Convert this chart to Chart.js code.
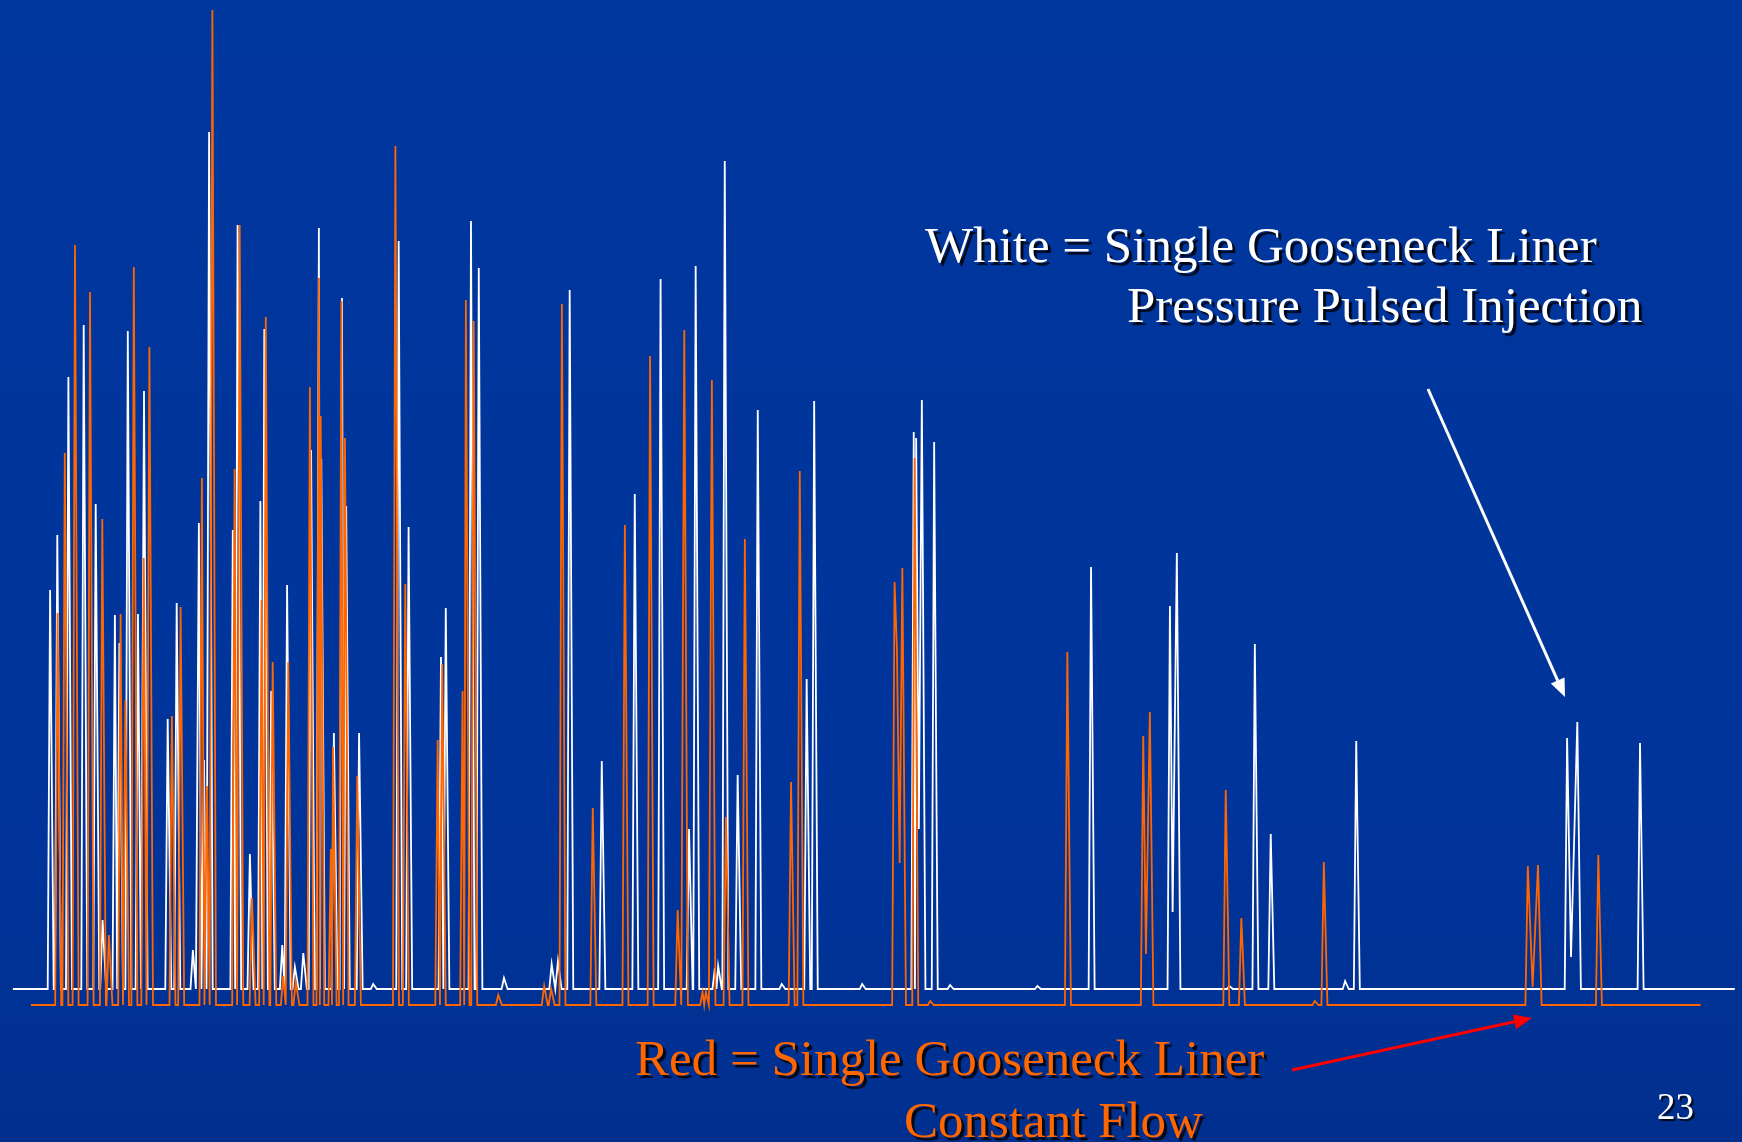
<!DOCTYPE html>
<html>
<head>
<meta charset="utf-8">
<title>Gooseneck liner chromatograms</title>
<script src="https://cdn.jsdelivr.net/npm/chart.js@4.4.1/dist/chart.umd.min.js"></script>
<style>
  html, body { margin: 0; padding: 0; background: #00349a; }
  #chart { display: block; }
</style>
</head>
<body>
<canvas id="chart" width="1742" height="1142"></canvas>
<script>
// retention time (min) and signal of each peak apex
const whiteTimes = [1.67, 1.91, 2.28, 2.79, 3.19, 3.42, 3.83, 3.98, 4.26, 4.60, 4.80, 5.59, 5.89, 6.43, 6.63, 6.80, 6.97,
  7.76, 7.92, 8.33, 8.68, 8.81, 9.04, 9.41, 9.57, 9.83, 10.11, 10.37, 10.63, 10.71, 11.13, 11.40, 11.54, 11.97, 12.44,
  13.29, 13.62, 14.70, 14.86, 15.70, 15.96, 16.80, 18.39, 18.60, 18.99, 20.06, 21.16, 22.02, 22.97, 23.19, 23.83, 23.94,
  24.16, 24.59, 25.26, 26.06, 26.89, 27.14, 28.74, 30.46, 30.54, 30.73, 31.14, 31.67, 34.58, 36.37, 39.00, 39.23, 40.98,
  41.83, 42.36, 44.84, 45.21, 52.24, 52.58, 54.67];
const whiteSignal = [39.9, 45.4, 61.2, 66.4, 48.5, 6.9, 37.4, 34.6, 65.8, 37.5, 59.8, 27.0, 38.6, 3.9, 46.6, 22.9, 85.7,
  45.9, 76.4, 13.5, 48.8, 66.0, 29.8, 4.4, 40.4, 2.2, 3.6, 53.9, 76.1, 53.0, 25.6, 69.1, 48.3, 25.6, 0.5,
  74.8, 46.2, 33.2, 38.1, 76.8, 72.1, 1.1, 2.5, 2.8, 69.9, 22.8, 49.5, 71.0, 16.0, 72.3, 2.1, 2.3,
  82.8, 21.4, 57.9, 0.5, 31.0, 58.8, 0.5, 55.7, 55.1, 58.9, 54.7, 0.4, 0.3, 42.2, 38.3, 43.6, 0.3,
  34.5, 15.5, 0.8, 24.8, 25.1, 26.7, 24.6];
// valleys between unresolved peaks
const whiteValleyTimes = [30.63, 39.09, 52.37];
const whiteValleySignal = [16.0, 7.7, 3.2];

const redTimes = [1.92, 2.16, 2.50, 3.00, 3.41, 3.63, 4.02, 4.18, 4.46, 4.79, 4.98, 5.73, 6.02, 6.73, 6.90, 7.08,
  7.82, 7.99, 8.40, 8.72, 8.86, 9.09, 9.44, 9.61, 9.86, 10.33, 10.63, 10.69, 11.03, 11.10, 11.38, 11.50, 11.91,
  13.18, 13.51, 14.59, 14.74, 15.42, 15.53, 15.79, 16.61, 18.14, 18.37, 18.73, 19.76, 20.83, 21.67, 22.59, 22.81,
  23.42, 23.53, 23.73, 24.20, 24.83, 26.37, 26.66, 29.82, 30.08, 30.49, 31.01, 35.58, 38.11, 38.33, 40.86, 41.38,
  43.83, 44.13, 50.93, 51.27, 53.28];
const redSignal = [37.6, 53.6, 74.4, 69.7, 47.0, 5.4, 37.5, 28.9, 72.2, 43.1, 64.2, 27.3, 38.2, 51.1, 20.3, 97.9,
  52.0, 76.4, 9.1, 38.9, 67.2, 32.7, 1.3, 32.7, 0.7, 60.2, 71.1, 57.3, 14.0, 24.2, 68.8, 55.1, 21.3,
  84.3, 40.5, 24.9, 32.5, 29.8, 68.9, 66.8, -0.6, 0.3, 0.0, 68.5, 18.1, 46.4, 63.3, 7.9, 65.9,
  -0.3, -0.3, 60.9, 17.2, 45.0, 20.7, 51.8, 40.7, 42.1, 53.1, -1.2, 33.7, 25.3, 27.7, 19.9, 7.1,
  -1.2, 12.7, 12.3, 12.4, 13.4];
const redValleyTimes = [29.90, 29.99, 38.20, 51.09];
const redValleySignal = [34.0, 12.6, 3.5, 0.2];

// run extents (min) and baselines
const whiteRun = [0.43, 57.83];
const redRun = [1.03, 56.69];
const whiteBase = 0;
const redBase = -1.6;

const LEAD = 0.08;  // rise of a peak, min
const TAIL = 0.12;  // tail of a peak, min

function buildTrace(times, signal, vTimes, vSignal, run, base) {
  const pts = [];
  times.forEach((t, i) => pts.push({ x: t, y: signal[i], apex: true }));
  vTimes.forEach((t, i) => pts.push({ x: t, y: vSignal[i], apex: false }));
  pts.sort((a, b) => a.x - b.x);

  const out = [{ x: run[0], y: base }];
  pts.forEach((p, i) => {
    const prev = pts[i - 1];
    if (p.apex && (!prev || prev.apex)) {
      if (!prev) {
        out.push({ x: p.x - LEAD, y: base });
      } else if (p.x - LEAD > prev.x + TAIL) {
        out.push({ x: prev.x + TAIL, y: base });
        out.push({ x: p.x - LEAD, y: base });
      } else {
        out.push({ x: (prev.x + p.x) / 2, y: base });
      }
    }
    out.push({ x: p.x, y: p.y });
  });
  const last = pts[pts.length - 1];
  out.push({ x: last.x + TAIL, y: base });
  out.push({ x: run[1], y: base });
  return out;
}

// background + annotations
const slide = {
  id: 'slide',
  beforeDraw(c) {
    const ctx = c.ctx;
    const g = ctx.createLinearGradient(0, 0, 0, c.height);
    g.addColorStop(0, '#00379e');
    g.addColorStop(0.75, '#00349a');
    g.addColorStop(1, '#002f8e');
    ctx.save();
    ctx.fillStyle = g;
    ctx.fillRect(0, 0, c.width, c.height);
    ctx.restore();
  },
  afterDraw(c) {
    const ctx = c.ctx;
    ctx.save();
    arrow(ctx, 1428, 389, 1565, 697, '#ffffff');
    arrow(ctx, 1292, 1070, 1532, 1018, '#ff0000');

    ctx.shadowColor = 'rgba(0,0,0,0.85)';
    ctx.shadowOffsetX = 3;
    ctx.shadowOffsetY = 3;
    ctx.shadowBlur = 1;
    ctx.textBaseline = 'alphabetic';
    ctx.font = '51px "Liberation Serif", "Times New Roman", serif';
    ctx.fillStyle = '#ffffff';
    ctx.fillText('White = Single Gooseneck Liner', 925, 262);
    ctx.fillText('Pressure Pulsed Injection', 1127, 322);
    ctx.fillStyle = '#ff6600';
    ctx.fillText('Red = Single Gooseneck Liner', 635, 1075);
    ctx.fillText('Constant Flow', 904, 1137);
    ctx.shadowOffsetX = 2;
    ctx.shadowOffsetY = 2;
    ctx.fillStyle = '#ffffff';
    ctx.font = '37px "Liberation Serif", "Times New Roman", serif';
    ctx.fillText('23', 1657, 1119);
    ctx.restore();
  }
};

function arrow(ctx, x1, y1, x2, y2, color) {
  const a = Math.atan2(y2 - y1, x2 - x1);
  const len = 18, half = 7.5;
  const bx = x2 - len * Math.cos(a), by = y2 - len * Math.sin(a);
  ctx.strokeStyle = color;
  ctx.fillStyle = color;
  ctx.lineWidth = 3;
  ctx.beginPath();
  ctx.moveTo(x1, y1);
  ctx.lineTo(bx, by);
  ctx.stroke();
  ctx.beginPath();
  ctx.moveTo(x2, y2);
  ctx.lineTo(bx + half * Math.sin(a), by - half * Math.cos(a));
  ctx.lineTo(bx - half * Math.sin(a), by + half * Math.cos(a));
  ctx.closePath();
  ctx.fill();
}

const chart = new Chart(document.getElementById('chart'), {
  type: 'line',
  data: {
    datasets: [
      {
        label: 'Red = Single Gooseneck Liner, Constant Flow',
        data: buildTrace(redTimes, redSignal, redValleyTimes, redValleySignal, redRun, redBase),
        borderColor: '#ff6600',
        borderWidth: 1.8,
        order: 0
      },
      {
        label: 'White = Single Gooseneck Liner, Pressure Pulsed Injection',
        data: buildTrace(whiteTimes, whiteSignal, whiteValleyTimes, whiteValleySignal, whiteRun, whiteBase),
        borderColor: '#ffffff',
        borderWidth: 1.8,
        order: 1
      }
    ]
  },
  options: {
    responsive: false,
    devicePixelRatio: 1,
    animation: false,
    parsing: true,
    elements: { point: { radius: 0 }, line: { tension: 0 } },
    layout: { padding: 0 },
    scales: {
      x: { type: 'linear', min: 0, max: 58.07, display: false },
      y: { type: 'linear', min: -15.3, max: 98.9, display: false }
    },
    plugins: { legend: { display: false }, tooltip: { enabled: false } }
  },
  plugins: [slide]
});
</script>
</body>
</html>
